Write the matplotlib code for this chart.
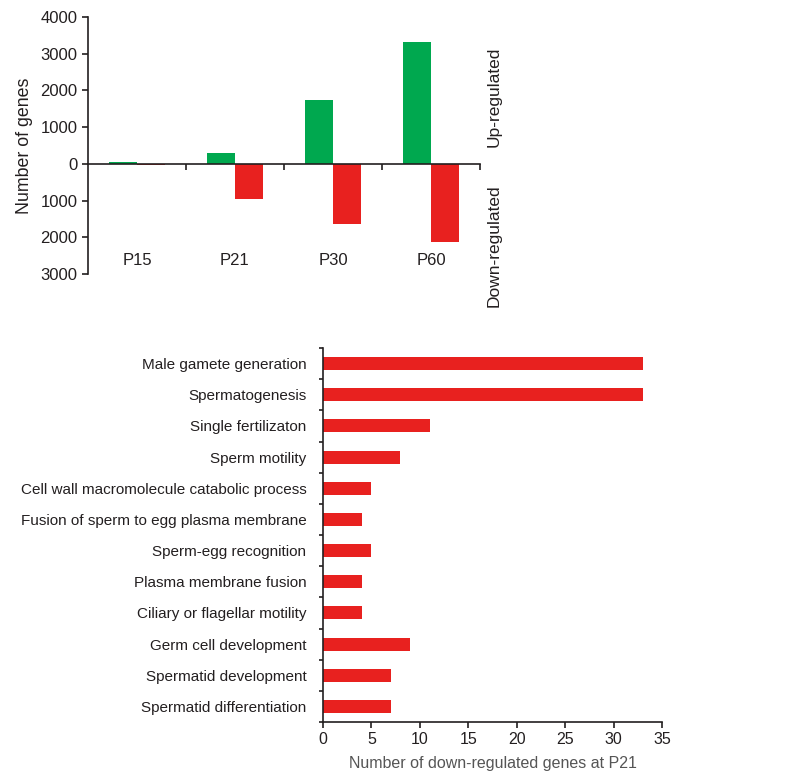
import numpy as np
import matplotlib
matplotlib.use("Agg")
import matplotlib.pyplot as plt
from matplotlib.ticker import FuncFormatter

plt.rcParams["font.family"] = ["Liberation Sans", "DejaVu Sans"]

# top panel data
stages = ["P15", "P21", "P30", "P60"]
up_genes = [40, 300, 1750, 3330]
down_genes = [40, 950, 1650, 2130]

# bottom panel data
go_terms = [
    "Male gamete generation",
    "Spermatogenesis",
    "Single fertilizaton",
    "Sperm motility",
    "Cell wall macromolecule catabolic process",
    "Fusion of sperm to egg plasma membrane",
    "Sperm-egg recognition",
    "Plasma membrane fusion",
    "Ciliary or flagellar motility",
    "Germ cell development",
    "Spermatid development",
    "Spermatid differentiation",
]
go_counts = [33, 33, 11, 8, 5, 4, 5, 4, 4, 9, 7, 7]

green = "#00a84f"
red = "#e8211f"
txt = "#231f20"

fig = plt.figure(figsize=(8.02, 7.81), dpi=100)

# ---- top panel
ax1 = fig.add_axes([0.1097, 0.6492, 0.4888, 0.329])
x = np.arange(len(stages))
w = 0.29
ax1.bar(x - w / 2, up_genes, width=w, color=green)
ax1.bar(x + w / 2, [-v for v in down_genes], width=w, color=red)
ax1.set_xlim(-0.5, len(stages) - 0.5)
ax1.set_ylim(-3000, 4000)
ax1.set_yticks(range(-3000, 4001, 1000))
ax1.yaxis.set_major_formatter(FuncFormatter(lambda v, p: f"{abs(int(v))}"))
ax1.spines["top"].set_visible(False)
ax1.spines["right"].set_visible(False)
ax1.spines["bottom"].set_position(("data", 0))
ax1.set_xticks(np.arange(0.5, len(stages), 1.0))
ax1.set_xticklabels([])
ax1.tick_params(axis="x", direction="out", length=4, width=1.2, colors=txt)
ax1.tick_params(axis="y", direction="out", length=4, width=1.2, labelsize=12, colors=txt)
for s in ax1.spines.values():
    s.set_linewidth(1.2)
    s.set_color(txt)
for i, s in enumerate(stages):
    ax1.text(i, -2620, s, ha="center", va="center", fontsize=12, color=txt)
ax1.set_ylabel("Number of genes", fontsize=12.8, color=txt, labelpad=5)
ax1.text(1.035, 0.69, "Up-regulated", transform=ax1.transAxes, rotation=90,
         ha="center", va="center", fontsize=12.5, color=txt)
ax1.text(1.035, 0.11, "Down-regulated", transform=ax1.transAxes, rotation=90,
         ha="center", va="center", fontsize=12.5, color=txt)

# ---- bottom panel
ax2 = fig.add_axes([0.4027, 0.0755, 0.4227, 0.4789])
y = np.arange(len(go_terms))
ax2.barh(y, go_counts, height=0.42, color=red)
ax2.set_ylim(len(go_terms) - 0.5, -0.5)
ax2.set_xlim(0, 35)
ax2.set_xticks(range(0, 36, 5))
ax2.set_yticks(y)
ax2.set_yticklabels(go_terms)
ax2.set_yticks(np.arange(-0.5, len(go_terms), 1.0), minor=True)
ax2.tick_params(axis="y", which="major", length=0, pad=12, labelsize=11, colors=txt)
ax2.tick_params(axis="y", which="minor", direction="out", length=3, width=1.2, colors=txt)
ax2.tick_params(axis="x", direction="out", length=4, width=1.2, labelsize=11.5, colors=txt)
ax2.spines["top"].set_visible(False)
ax2.spines["right"].set_visible(False)
for s in ax2.spines.values():
    s.set_linewidth(1.2)
    s.set_color(txt)
ax2.set_xlabel("Number of down-regulated genes at P21", fontsize=11.5, color="#555555", labelpad=6)

plt.savefig("out.png", dpi=100)
